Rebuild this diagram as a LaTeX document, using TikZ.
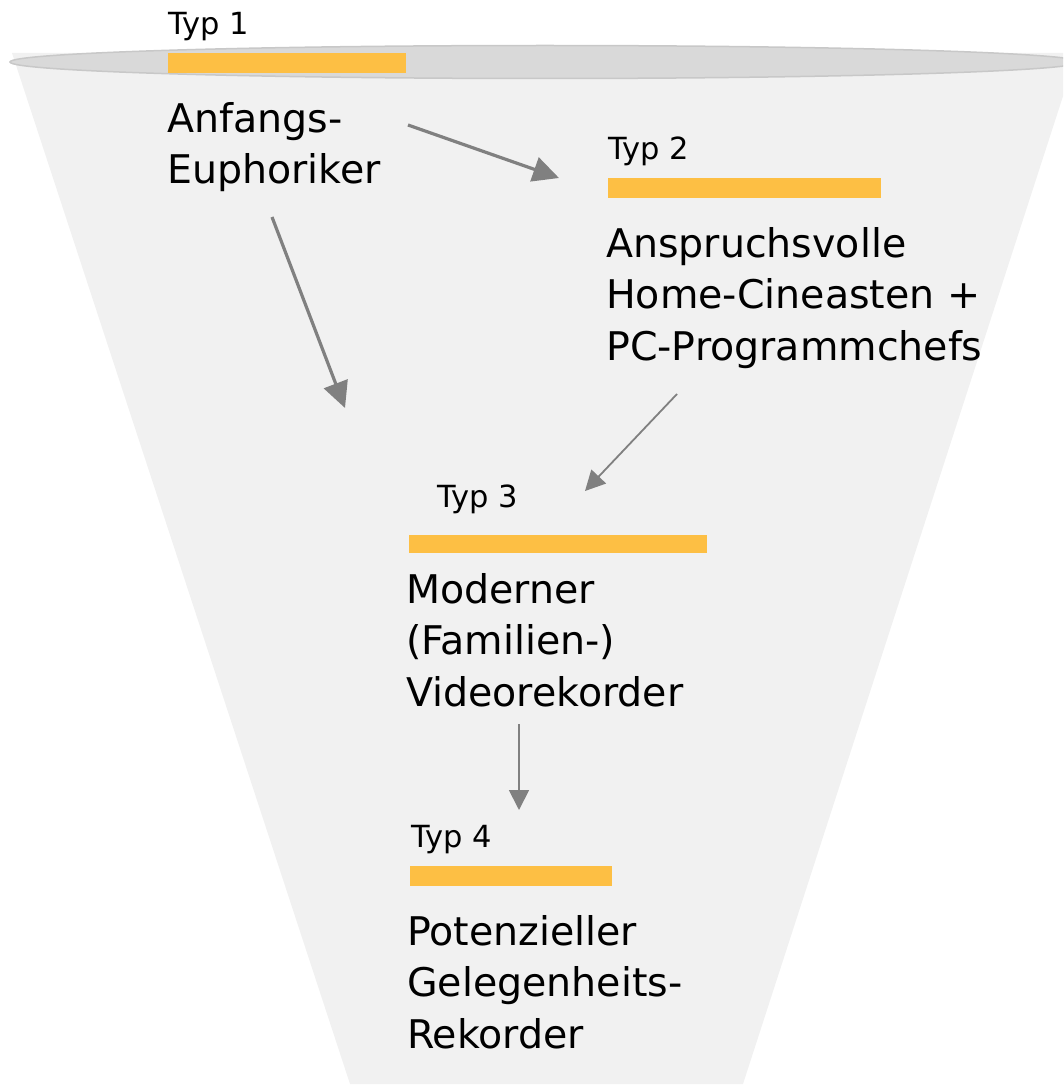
\documentclass[tikz,border=0pt]{standalone}
\usepackage{fontspec}
\setmainfont{DejaVu Sans}
\usetikzlibrary{arrows.meta}
\definecolor{funnelc}{HTML}{F1F1F1}
\definecolor{rimfill}{HTML}{D9D9D9}
\definecolor{rimline}{HTML}{C8C8C8}
\definecolor{barc}{HTML}{FDBF44}
\definecolor{arrc}{HTML}{808080}
\tikzset{
  typlabel/.style={anchor=base west, inner sep=0pt, font=\fontsize{30.5}{36}\selectfont},
  grouplabel/.style={anchor=north west, inner sep=0pt, align=left, font=\fontsize{39.5}{51.5}\selectfont},
  typbar/.style={fill=barc, draw=none},
  thickarrow/.style={draw=arrc, line width=3.2pt, -{Triangle[length=26pt,width=25pt]}, fill=arrc},
  thinarrow/.style={draw=arrc, line width=1.8pt, -{Triangle[length=20pt,width=20pt]}, fill=arrc},
}
\begin{document}
\begin{tikzpicture}[x=1pt,y=-1pt]
\useasboundingbox (0,0) rectangle (1063,1086);
% funnel
\begin{scope}
\clip (0,0) rectangle (1063,1086);
\fill[funnelc] (12,53) -- (1077,53) -- (743,1084) -- (350,1084) -- cycle;
\draw[fill=rimfill, draw=rimline, line width=1.5pt] (545,62) ellipse [x radius=535pt, y radius=16.5pt];
\end{scope}
% type 1
\node[typlabel] (t1) at (168,35) {Typ 1};
\path[typbar] (168,53) rectangle (406,73);
\node[grouplabel] (g1) at (167,96) {\strut Anfangs-\\Euphoriker};
% type 2
\node[typlabel] (t2) at (608,160) {Typ 2};
\path[typbar] (608,178) rectangle (881,198);
\node[grouplabel] (g2) at (606,221) {\strut Anspruchsvolle\\Home-Cineasten +\\PC-Programmchefs};
% type 3
\node[typlabel] (t3) at (437,507) {Typ 3};
\path[typbar] (409,535) rectangle (707,553);
\node[grouplabel] (g3) at (406,567) {\strut Moderner\\(Familien-)\\Videorekorder};
% type 4
\node[typlabel] (t4) at (411,847) {Typ 4};
\path[typbar] (410,866) rectangle (612,886);
\node[grouplabel] (g4) at (407,909) {\strut Potenzieller\\Gelegenheits-\\Rekorder};
% connectors
\coordinate (a1s) at (408,125);
\coordinate (a1e) at (559,178);
\coordinate (a2s) at (272,217);
\coordinate (a2e) at (345,408);
\coordinate (a3s) at (677,394);
\coordinate (a3e) at (585,491);
\coordinate (a4s) at (519,724);
\coordinate (a4e) at (519,810);
\draw[thickarrow] (a1s) -- (a1e);
\draw[thickarrow] (a2s) -- (a2e);
\draw[thinarrow] (a3s) -- (a3e);
\draw[thinarrow] (a4s) -- (a4e);
\end{tikzpicture}
\end{document}
